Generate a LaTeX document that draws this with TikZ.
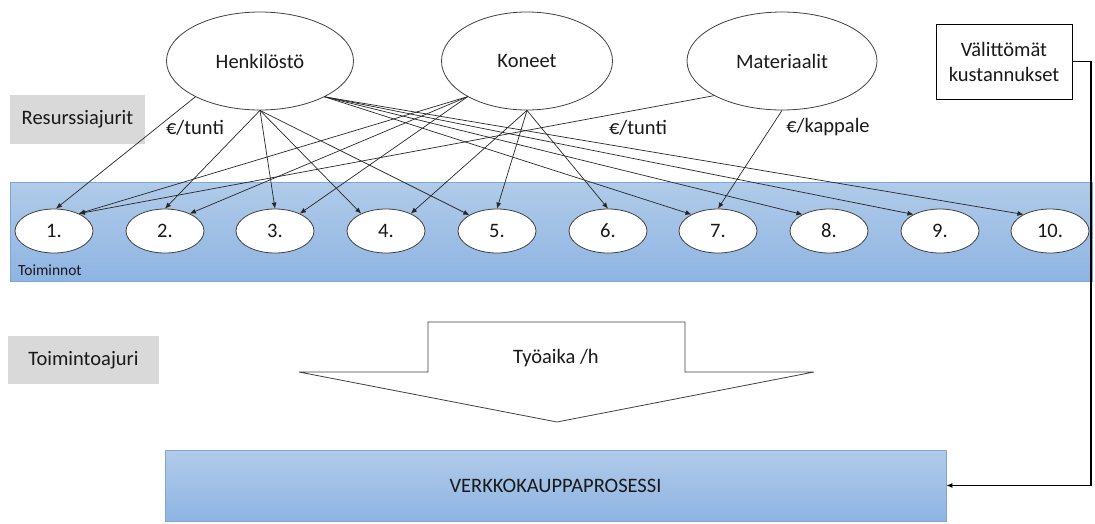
\documentclass[tikz,border=0pt]{standalone}
\usepackage{fontspec}
\setmainfont{Carlito}
\usetikzlibrary{arrows.meta,shapes.geometric}
\definecolor{bandtop}{HTML}{B1CBE9}
\definecolor{bandbot}{HTML}{8EB4E3}
\definecolor{bandline}{HTML}{7BA7DB}
\definecolor{grayfill}{HTML}{D9D9D9}
\definecolor{strokegray}{HTML}{404040}
\begin{document}
\begin{tikzpicture}[x=1pt,y=-1pt,
  every node/.style={font=\fontsize{20.5}{25}\selectfont, inner sep=0pt, text=black!90},
  res/.style={ellipse, draw=strokegray, fill=white, line width=0.8pt, minimum height=98pt},
  act/.style={ellipse, draw=strokegray, fill=white, line width=0.8pt, minimum width=78pt, minimum height=44pt},
  link/.style={draw=black!85, line width=0.7pt, -{Latex[length=6pt,width=5pt]}},
  graybox/.style={rectangle, fill=grayfill, draw=none},
  blueband/.style={rectangle, top color=bandtop, bottom color=bandbot, draw=bandline, line width=0.8pt},
]
\useasboundingbox (0,0) rectangle (1095,523);

% gray label boxes
\node[graybox, minimum width=135pt, minimum height=49pt] (resj) at (77.5,119) {Resurssiajurit};
\node[graybox, minimum width=151pt, minimum height=48pt] (toimj) at (83.5,360) {Toimintoajuri};

% resource ellipses
\node[res, minimum width=187pt] (H) at (260,61) {Henkilöstö};
\node[res, minimum width=171pt] (K) at (527,61) {Koneet};
\node[res, minimum width=190pt] (M) at (782,61) {Materiaalit};

% direct costs box
\node[rectangle, draw=black, line width=0.8pt, fill=white, minimum width=136pt, minimum height=75pt, align=center] (val) at (1004,61.5) {Välittömät\\kustannukset};

% activities band
\node[blueband, minimum width=1082pt, minimum height=99pt] (band) at (551,231.5) {};
\node[anchor=west, font=\fontsize{15.5}{18}\selectfont] (toim) at (18,270) {Toiminnot};
\foreach \i/\x in {1/54,2/165,3/275,4/386,5/497,6/608,7/718,8/829,9/940,10/1050}
  \node[act] (n\i) at (\x,231) {\i.};

% driver labels
\node (e1) at (195,128) {€/tunti};
\node (e2) at (638,128) {€/tunti};
\node (e3) at (828,127) {€/kappale};

% links Henkilöstö
\draw[link] (H.209) -- (n1.85);
\draw[link] (H.south) -- (n2.north);
\draw[link] (H.south) -- (n3.north);
\draw[link] (H.south) -- (n4.145);
\draw[link] (H.south) -- (n5.150);
\draw[link] (H.331) -- (n7.148);
\draw[link] (H.331) -- (n8.148);
\draw[link] (H.331) -- (n9.148);
\draw[link] (H.331) -- (n10.148);
% links Koneet
\draw[link] (K.211) -- (n1.35);
\draw[link] (K.211) -- (n2.35);
\draw[link] (K.211) -- (n3.35);
\draw[link] (K.south) -- (n4.35);
\draw[link] (K.south) -- (n5.north);
\draw[link] (K.south) -- (n6.north);
% links Materiaalit
\draw[link] (M.207) -- (n1.35);
\draw[link] (M.south) -- (n7.north);

% activity driver block arrow
\draw[draw=strokegray, fill=white, line width=0.8pt]
  (428,322) -- (685,322) -- (685,372) -- (814,372) -- (557,422) -- (299,372) -- (428,372) -- cycle;
\node (tyo) at (556,358) {Työaika /h};

% process box
\node[blueband, minimum width=781pt, minimum height=71pt] (proc) at (555.5,485.5) {VERKKOKAUPPAPROSESSI};

% direct cost connector
\coordinate (corner) at (1091,61.5);
\draw[black, line width=1.4pt, -{Latex[length=6pt,width=5pt]}] (val.east) -- (corner) |- (proc.east);
\end{tikzpicture}
\end{document}
